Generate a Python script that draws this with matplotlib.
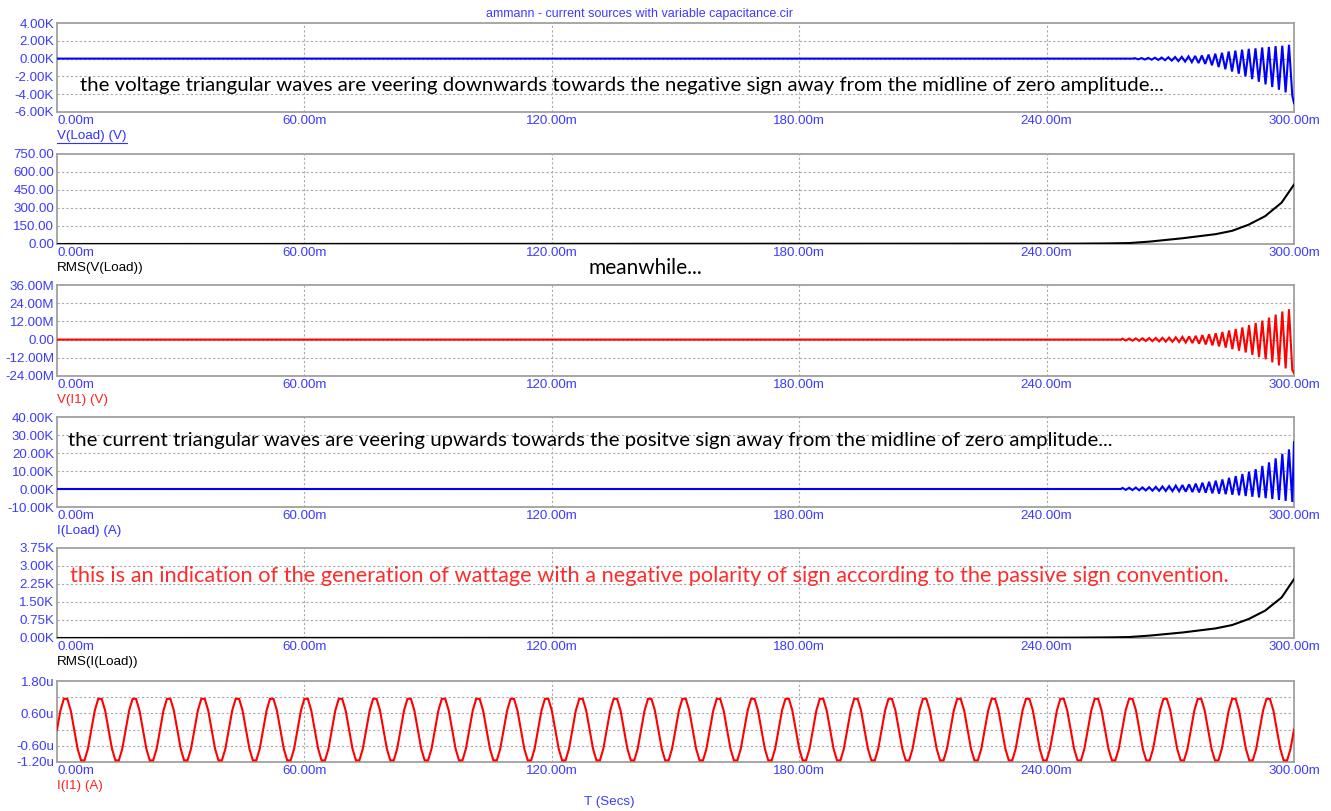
import numpy as np
import matplotlib.pyplot as plt
from matplotlib.lines import Line2D

W, H = 1331, 811

# time axis (ms)
time_ticks = [0, 60, 120, 180, 240, 300]
time_labels = ['0.00m', '60.00m', '120.00m', '180.00m', '240.00m', '300.00m']

# V(Load) in kV: triangular burst near the end
vload_start = 261.0
vload_period = 1.625
vload_peaks = [0.05, 0.06, 0.08, 0.1, 0.12, 0.15, 0.18, 0.2, 0.25, 0.3, 0.35, 0.45,
               0.55, 0.65, 0.8, 0.9, 1.0, 1.1, 1.15, 1.25, 1.3, 1.4, 1.45, 1.55]
vload_troughs = [-0.08, -0.1, -0.12, -0.15, -0.18, -0.22, -0.28, -0.33, -0.4, -0.5, -0.6, -0.75,
                 -0.95, -1.2, -1.45, -1.7, -2.0, -2.3, -2.6, -2.9, -3.2, -3.5, -3.8, -4.2]
vload_end = -5.0

# RMS(V(Load))
rmsv_t = [0, 247, 255, 260, 265, 273, 281, 285, 289, 293, 297, 300]
rmsv_v = [0, 3, 5, 8, 20, 48, 82, 110, 161, 232, 345, 495]

# V(I1) in MV
vi1_start = 258.0
vi1_period = 1.615
vi1_peaks = [0.6, 0.7, 0.8, 0.9, 1.0, 1.1, 1.2, 1.3, 1.5, 1.8, 2.1, 2.5, 3.0,
             3.5, 4.2, 5.0, 6.0, 7.0, 8.0, 9.5, 11.0, 12.5, 14.5, 16.5, 18.5, 20.0]
vi1_troughs = [-0.6, -0.7, -0.8, -0.9, -1.0, -1.2, -1.3, -1.4, -1.6, -1.9, -2.3, -2.7, -3.2,
               -3.8, -4.5, -5.3, -6.3, -7.3, -8.5, -10.0, -11.5, -13.0, -15.0, -17.0, -19.0, -20.0]
vi1_end = -22.0

# I(Load) in kA
iload_start = 258.0
iload_period = 1.615
iload_peaks = [0.6, 0.7, 0.8, 0.9, 1.0, 1.2, 1.4, 1.6, 1.9, 2.2, 2.6, 3.0, 3.5,
               4.0, 4.6, 5.3, 6.2, 7.2, 8.3, 9.6, 11.0, 12.8, 14.8, 17.0, 19.5, 22.0]
iload_troughs = [-0.5, -0.6, -0.7, -0.8, -0.9, -1.0, -1.1, -1.2, -1.3, -1.5, -1.7, -1.9, -2.1,
                 -2.4, -2.6, -2.9, -3.2, -3.5, -3.9, -4.3, -4.7, -5.1, -5.6, -6.1, -6.6, -7.2]
iload_end = 26.0

# RMS(I(Load)) in kA
rmsi_t = [0, 247, 255, 260, 265, 273, 281, 285, 289, 293, 297, 300]
rmsi_v = [0, 0.015, 0.025, 0.04, 0.1, 0.23, 0.4, 0.54, 0.79, 1.14, 1.69, 2.45]

# I(I1) in uA: one cycle of samples, repeated
ii1_cycle = [0, 0.71, 1.14, 1.14, 0.71, 0, -0.71, -1.14, -1.14, -0.71]
ii1_cycles = 36

# axis setups
y_ticks = [
    ([4, 2, 0, -2, -4, -6], ['4.00K', '2.00K', '0.00K', '-2.00K', '-4.00K', '-6.00K']),
    ([750, 600, 450, 300, 150, 0], ['750.00', '600.00', '450.00', '300.00', '150.00', '0.00']),
    ([36, 24, 12, 0, -12, -24], ['36.00M', '24.00M', '12.00M', '0.00', '-12.00M', '-24.00M']),
    ([40, 30, 20, 10, 0, -10], ['40.00K', '30.00K', '20.00K', '10.00K', '0.00K', '-10.00K']),
    ([3.75, 3.0, 2.25, 1.5, 0.75, 0], ['3.75K', '3.00K', '2.25K', '1.50K', '0.75K', '0.00K']),
    ([1.8, 1.2, 0.6, 0, -0.6, -1.2], ['1.80u', '', '0.60u', '', '-0.60u', '-1.20u']),
]
trace_names = ['V(Load) (V)', 'RMS(V(Load))', 'V(I1) (V)', 'I(Load) (A)', 'RMS(I(Load))', 'I(I1) (A)']
trace_colors = ['#0000ff', 'black', '#ff0000', '#0000ff', 'black', '#ff0000']
name_colors = ['#3030ff', 'black', '#ff2020', '#3030ff', 'black', '#ff2020']


def burst(start, period, peaks, troughs, end_v):
    t = [0, start]
    v = [0, 0]
    for k, (p, q) in enumerate(zip(peaks, troughs)):
        t += [start + (k + 0.25) * period, start + (k + 0.75) * period]
        v += [p, q]
    t.append(300)
    v.append(end_v)
    return t, v


ii1_v = list(np.tile(ii1_cycle, ii1_cycles)) + [0]
series = [
    burst(vload_start, vload_period, vload_peaks, vload_troughs, vload_end),
    (rmsv_t, rmsv_v),
    burst(vi1_start, vi1_period, vi1_peaks, vi1_troughs, vi1_end),
    burst(iload_start, iload_period, iload_peaks, iload_troughs, iload_end),
    (rmsi_t, rmsi_v),
    (np.linspace(0, 300, len(ii1_v)), ii1_v),
]

# panel positions in pixels (top, bottom)
panels_px = [(23, 112), (154, 244), (285, 376), (417, 507), (548, 638), (681, 762)]
left_px, right_px = 57, 1294

tick_blue = '#3c3cff'
grid_kw = dict(color='#a8a8a8', linestyle=(0, (2, 2)), linewidth=0.8)
plt.rcParams['font.family'] = ['Liberation Sans', 'DejaVu Sans']

fig = plt.figure(figsize=(W / 100, H / 100), dpi=100)
axes = []
for i, (top, bot) in enumerate(panels_px):
    ax = fig.add_axes([left_px / W, 1 - bot / H, (right_px - left_px) / W, (bot - top) / H])
    ticks, labels = y_ticks[i]
    ax.set_xlim(0, 300)
    ax.set_ylim(min(ticks), max(ticks))
    for yv in ticks[1:-1]:
        ax.axhline(yv, **grid_kw, zorder=1)
    for xv in time_ticks[1:-1]:
        ax.axvline(xv, **grid_kw, zorder=1)
    t, v = series[i]
    ax.plot(t, v, color=trace_colors[i], lw=1.5, zorder=3, solid_joinstyle='miter')
    ax.set_yticks(ticks)
    ax.set_yticklabels(labels)
    ax.set_xticks(time_ticks)
    ax.set_xticklabels(time_labels)
    ax.xaxis.get_ticklabels()[0].set_horizontalalignment('left')
    ax.tick_params(length=0, labelsize=9.6, labelcolor=tick_blue, pad=2)
    for s in ax.spines.values():
        s.set_color('#a0a0a0')
        s.set_linewidth(1.3)
    axes.append(ax)
    fig.text(left_px / W, 1 - (bot + 24) / H, trace_names[i], color=name_colors[i],
             fontsize=9.6, ha='left', va='center')

fig.text(640 / W, 1 - 14 / H, 'ammann - current sources with variable capacitance.cir',
         color=tick_blue, fontsize=9, ha='center', va='center')
fig.text(609 / W, 1 - 802 / H, 'T (Secs)', color=tick_blue, fontsize=9.6, ha='center', va='center')

# underline first trace name
renderer = fig.canvas.get_renderer()
name0 = fig.texts[0]
bb = name0.get_window_extent(renderer)
fig.add_artist(Line2D([bb.x0 / W, bb.x1 / W], [(bb.y0 - 1) / H, (bb.y0 - 1) / H],
                      transform=fig.transFigure, color=name_colors[0], lw=0.8))

notes = [
    ('the voltage triangular waves are veering downwards towards the negative sign away from the midline of zero amplitude...',
     80, 1162, 91, 'black'),
    ('meanwhile...', 588, 702, 274, 'black'),
    ('the current triangular waves are veering upwards towards the positve sign away from the midline of zero amplitude...',
     68, 1108, 446, 'black'),
    ('this is an indication of the generation of wattage with a negative polarity of sign according to the passive sign convention.',
     70, 1227, 582, '#ff2a2a'),
]
for txt, x0, x1, yb, col in notes:
    t = fig.text(x0 / W, 1 - yb / H, txt, color=col, fontsize=13, family=['Lato', 'DejaVu Sans'],
                 ha='left', va='baseline')
    w = t.get_window_extent(renderer).width
    t.set_fontsize(13 * (x1 - x0) / w)

fig.savefig('out.png', dpi=100)
